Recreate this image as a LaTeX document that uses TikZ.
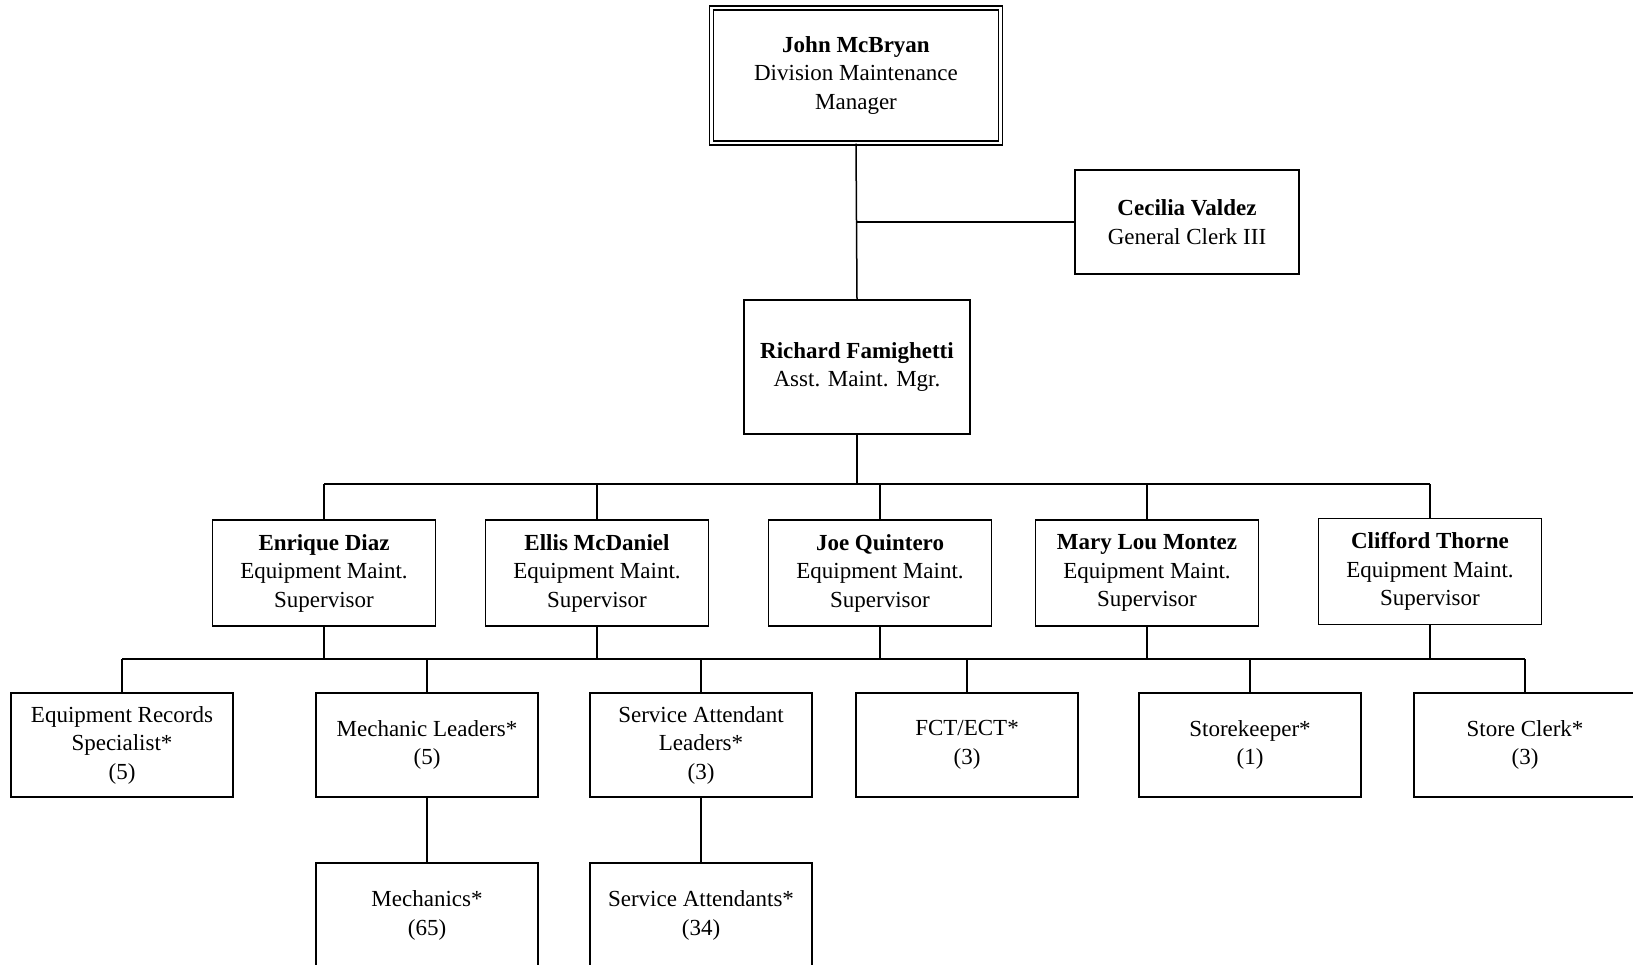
\documentclass[tikz,border=0pt]{standalone}
\usepackage{fontspec}
\setmainfont{Liberation Serif}
\begin{document}
\begin{tikzpicture}[x=1pt,y=-1pt,
  box/.style={draw,line width=1.6pt,align=center,inner sep=0pt,
    font=\fontsize{23}{28.5}\selectfont},
  sup/.style={box,minimum width=223pt,minimum height=106pt},
  low/.style={box,minimum width=222pt,minimum height=104pt},
  link/.style={line width=1.5pt}]
\useasboundingbox[fill=white] (0,0) rectangle (1633,965);
% top
\node[box,double,double distance=2.5pt,line width=1.3pt,minimum width=289pt,minimum height=135pt] (john) at (856,75.5)
  {\textbf{John McBryan}\\Division Maintenance\\Manager};
\node[box,minimum width=224pt,minimum height=104pt] (cecilia) at (1187,222)
  {\textbf{Cecilia Valdez}\\General Clerk III};
\node[box,minimum width=226pt,minimum height=134pt] (richard) at (857,367)
  {\textbf{Richard Famighetti}\\Asst. Maint. Mgr.};
% supervisors
\node[sup] (enrique) at (324,573) {\textbf{Enrique Diaz}\\Equipment Maint.\\Supervisor};
\node[sup] (ellis) at (597,573) {\textbf{Ellis McDaniel}\\Equipment Maint.\\Supervisor};
\node[sup] (joe) at (880,573) {\textbf{Joe Quintero}\\Equipment Maint.\\Supervisor};
\node[sup] (mary) at (1147,573) {\textbf{Mary Lou Montez}\\Equipment Maint.\\Supervisor};
\node[sup] (clifford) at (1430,571.5) {\textbf{Clifford Thorne}\\Equipment Maint.\\Supervisor};
% lower row
\node[low] (records) at (122,745) {Equipment Records\\Specialist*\\(5)};
\node[low] (mechlead) at (427,745) {Mechanic Leaders*\\(5)};
\node[low] (servlead) at (701,745) {Service Attendant\\Leaders*\\(3)};
\node[low] (fct) at (967,745) {FCT/ECT*\\(3)};
\node[low] (store) at (1250,745) {Storekeeper*\\(1)};
\node[low] (clerk) at (1525,745) {Store Clerk*\\(3)};
% bottom row
\node[low,minimum height=105pt] (mech) at (427,915.5) {Mechanics*\\(65)};
\node[low,minimum height=105pt] (serv) at (701,915.5) {Service Attendants*\\(34)};
% connectors
\draw[link] (john.south) -- (richard.north);
\draw[link] (john.south |- cecilia.west) -- (cecilia.west);
\coordinate (busA) at (857,484);
\coordinate (busB) at (857,659);
\draw[link] (richard.south) -- (busA);
\draw[link] (enrique.north |- busA) -- (clifford.north |- busA);
\foreach \n in {enrique,ellis,joe,mary,clifford}
  \draw[link] (\n.north |- busA) -- (\n.north);
\foreach \n in {enrique,ellis,joe,mary,clifford}
  \draw[link] (\n.south) -- (\n.south |- busB);
\draw[link] (records.north |- busB) -- (clerk.north |- busB);
\foreach \n in {records,mechlead,servlead,fct,store,clerk}
  \draw[link] (\n.north |- busB) -- (\n.north);
\draw[link] (mechlead.south) -- (mech.north);
\draw[link] (servlead.south) -- (serv.north);
\end{tikzpicture}
\end{document}
